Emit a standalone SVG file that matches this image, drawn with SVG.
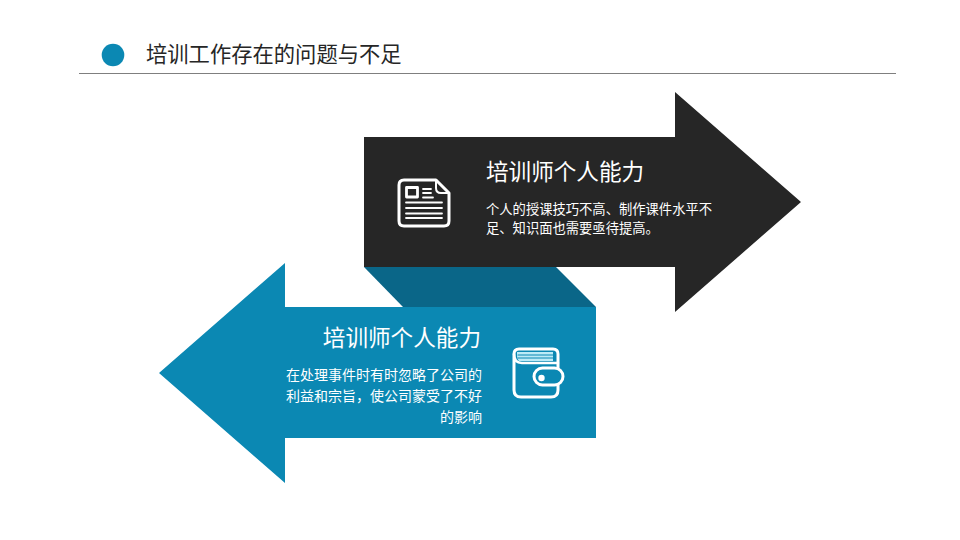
<svg xmlns="http://www.w3.org/2000/svg" width="960" height="540" viewBox="0 0 960 540">
<style>
text{font-family:"Noto Sans CJK SC","Noto Sans",sans-serif;}
.h{font-size:22.6px;fill:#fff;}
.b{font-size:13.3px;fill:#fff;}
.c{font-size:14px;fill:#fff;}
.ic{fill:none;stroke:#fff;stroke-linejoin:round;stroke-linecap:round;}
</style>
<rect width="960" height="540" fill="#fff"/>
<g id="header">
<circle cx="113" cy="55" r="11.3" fill="#0b88b3"/>
<text x="146" y="62" font-size="21.3" fill="#262626">培训工作存在的问题与不足</text>
<rect x="79" y="73" width="817" height="1" fill="#7f7f7f"/>
</g>
<g id="fold"><polygon points="364,267 556,267 596,307 403,307" fill="#0a6688"/></g>
<g id="arrow-top">
<polygon points="364,137 675,137 675,92 801,202 675,312 675,267 364,267" fill="#262626"/>
<path class="ic" stroke-width="3" d="M404,180H436L449,193V221Q449,226 444,226H404Q399,226 399,221V185Q399,180 404,180Z"/>
<path class="ic" stroke-width="2" d="M436,180V188Q436,193 441,193H449"/>
<rect class="ic" stroke-width="2.800" x="406.500" y="187.500" width="11" height="9.500"/>
<path class="ic" stroke-width="1.800" d="M423,189H431M423,193H431M423,197.500H433M406,202.500H442M406,208H442M406,213.500H442M406,218H442"/>
<text class="h" x="486" y="180">培训师个人能力</text>
<text class="b" x="486" y="214">个人的授课技巧不高、制作课件水平不</text>
<text class="b" x="486" y="233">足、知识面也需要亟待提高。</text>
</g>
<g id="arrow-bottom">
<polygon points="596,307 285,307 285,263 159,373 285,483 285,438 596,438" fill="#0b88b3"/>
<path class="ic" stroke-width="3" d="M519,349H553Q558,349 558,354V368M514,354V390Q514,397 521,397H551Q558,397 558,390V385M514,354Q514,349 519,349"/>
<path class="ic" stroke-width="2.500" d="M514,354Q514,363 522,363H558"/>
<path d="M517,352H553V361H519Q517,359 517,356Z" fill="#bdebf7"/>
<path class="ic" style="stroke:#0b88b3" stroke-width="1.200" d="M518,355H553M518,358H553"/>
<rect class="ic" stroke-width="3" x="534" y="368" width="29" height="17" rx="8.500" style="fill:#0b88b3"/>
<circle cx="541.500" cy="378" r="3.200" fill="#fff"/>
<text class="h" x="481" y="346" text-anchor="end">培训师个人能力</text>
<text class="c" x="482" y="380" text-anchor="end">在处理事件时有时忽略了公司的</text>
<text class="c" x="482" y="401" text-anchor="end">利益和宗旨，使公司蒙受了不好</text>
<text class="c" x="482" y="422" text-anchor="end">的影响</text>
</g>
</svg>
